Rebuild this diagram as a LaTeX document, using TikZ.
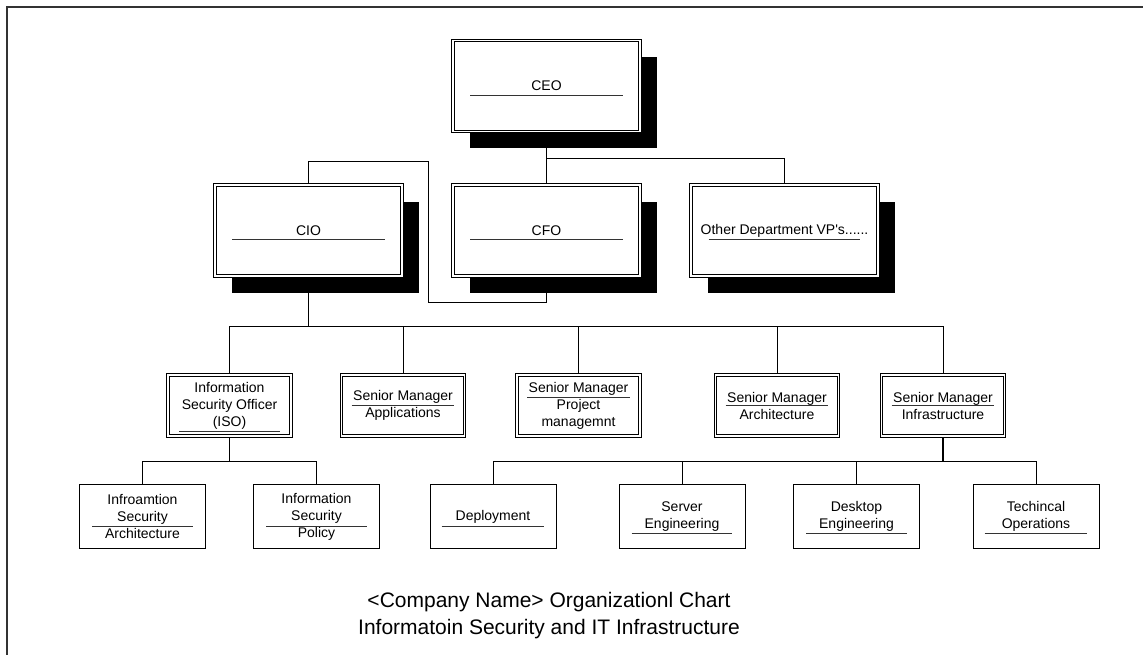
\documentclass[tikz,border=0pt]{standalone}
\usepackage{fontspec}
\setmainfont{Liberation Sans}
\usetikzlibrary{calc,shadows,backgrounds}

\begin{document}
\begin{tikzpicture}[
    x=1pt, y=1pt,
    bigbox/.style={
      draw, double, double distance=1.8pt, line width=0.9pt, fill=white,
      minimum width=187pt, minimum height=91pt, inner sep=0pt,
      drop shadow={shadow xshift=17pt, shadow yshift=-17pt, fill=black, opacity=1},
      font=\fontsize{14}{17}\selectfont
    },
    midbox/.style={
      draw, double, double distance=1.8pt, line width=0.9pt, fill=white,
      minimum width=123pt, minimum height=61pt, inner sep=0pt, align=center,
      font=\fontsize{14}{17}\selectfont
    },
    smallbox/.style={
      draw, line width=0.9pt, fill=white,
      minimum width=126pt, minimum height=64pt, inner sep=0pt, align=center,
      font=\fontsize{14}{17}\selectfont
    },
    link/.style={line width=0.9pt},
    stem/.style={line width=1.7pt},
    uline/.style={line width=0.9pt, draw=black!80}
  ]
    \useasboundingbox (0,0) rectangle (1143,-655);
    \draw[line width=1.5pt, black!80] (7,-655) -- (7,-7) -- (1143,-7);

    % top levels
    \node[bigbox] (ceo) at (546.5,-86) {CEO};
    \node[bigbox] (cio) at (308.5,-230.5) {CIO};
    \node[bigbox] (cfo) at (546.5,-230.5) {CFO};
    \node[bigbox] (other) at (784.5,-230.5) {Other Department VP\textquotesingle s......};

    % senior managers
    \node[midbox] (iso) at (229.5,-405.5) {Information\\Security Officer\\(ISO)};
    \node[midbox] (apps) at (403,-405.5) {Senior Manager\\Applications};
    \node[midbox] (proj) at (578.5,-405.5) {Senior Manager\\Project\\managemnt};
    \node[midbox] (arch) at (777,-405.5) {Senior Manager\\Architecture};
    \node[midbox] (infra) at (943,-405.5) {Senior Manager\\Infrastructure};

    % teams
    \node[smallbox] (isarch) at (142.5,-516.5) {Infroamtion\\Security\\Architecture};
    \node[smallbox] (ispol) at (316.5,-516.5) {Information\\Security\\Policy};
    \node[smallbox] (deploy) at (493,-516.5) {Deployment};
    \node[smallbox] (server) at (682,-516.5) {Server\\Engineering};
    \node[smallbox] (desktop) at (856.5,-516.5) {Desktop\\Engineering};
    \node[smallbox] (techops) at (1036,-516.5) {Techincal\\Operations};

    \node[align=center, font=\fontsize{21}{27}\selectfont] (title) at (549,-615.5)
      {<Company Name> Organizationl Chart\\Informatoin Security and IT Infrastructure};

    % underlines
    \foreach \n/\i/\d in {ceo/17.5/-9, cio/17.5/-9, cfo/17.5/-9, other/18/-9,
        iso/11.5/-25.5, apps/10.5/0, proj/10.5/8.5, arch/10.5/0, infra/10.5/0,
        isarch/13/-9.5, ispol/13/-9.5, deploy/12/-9.5,
        server/13/-16.5, desktop/13/-16.5, techops/12/-16.5}
      \draw[uline] ([xshift=\i pt,yshift=\d pt]\n.west) -- ([xshift=-\i pt,yshift=\d pt]\n.east);

    % connectors
    \coordinate (ceobus) at (546.5,-158);
    \coordinate (cioup) at (428,-161);
    \coordinate (ciodown) at (428,-302);
    \coordinate (ciobus) at (308.5,-326);
    \coordinate (isobus) at (229.5,-461);
    \coordinate (infrabus) at (943,-461);

    \begin{scope}[on background layer]
      \draw[link] (ceo) -- (cfo);
      \draw[link] (ceo) -- (ceobus) -| (other);
      \draw[link] (cio) |- (cioup) -- (ciodown) -| (cfo);
      \draw[stem] (cio) -- (ciobus);
      \foreach \n in {iso,apps,proj,arch,infra}
        \draw[link] (ciobus) -| (\n);
      \draw[stem] (iso) -- (isobus);
      \foreach \n in {isarch,ispol}
        \draw[link] (isobus) -| (\n);
      \draw[stem] (infra) -- (infrabus);
      \foreach \n in {deploy,server,desktop,techops}
        \draw[link] (infrabus) -| (\n);
    \end{scope}
  \end{tikzpicture}
\end{document}
